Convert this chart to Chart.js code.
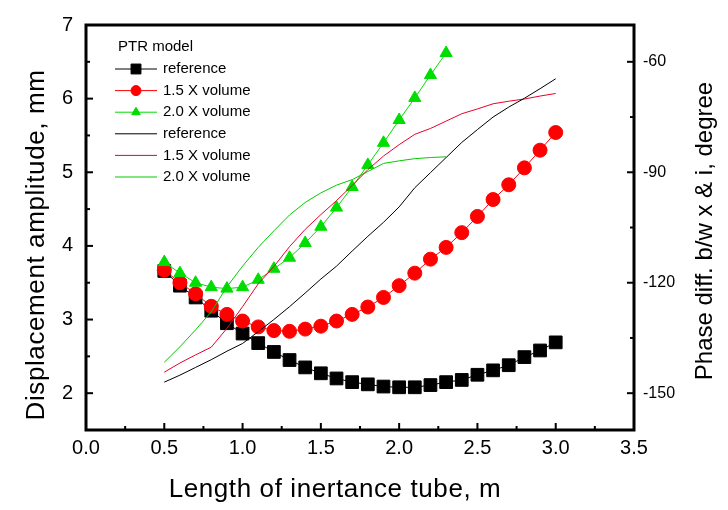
<!DOCTYPE html>
<html>
<head>
<meta charset="utf-8">
<script src="https://cdn.jsdelivr.net/npm/chart.js@4/dist/chart.umd.min.js"></script>
<style>
  html, body { margin: 0; padding: 0; background: #fff; }
</style>
</head>
<body>
<canvas id="chart" width="728" height="510"></canvas>
<script>
// ---- data ----
const seriesLabels = ['reference', '1.5 X volume', '2.0 X volume'];
const legendTitle = 'PTR model';

// tube length, m
const xLen = [0.5, 0.6, 0.7, 0.8, 0.9, 1.0, 1.1, 1.2, 1.3, 1.4, 1.5, 1.6, 1.7,
              1.8, 1.9, 2.0, 2.1, 2.2, 2.3, 2.4, 2.5, 2.6, 2.7, 2.8, 2.9, 3.0];
const xLenShort = [0.5, 0.6, 0.7, 0.8, 0.9, 1.0, 1.1, 1.2, 1.3, 1.4, 1.5, 1.6,
                   1.7, 1.8, 1.9, 2.0, 2.1, 2.2, 2.3];

// displacement amplitude, mm (symbols, left axis)
const ampRef = [3.66, 3.46, 3.30, 3.12, 2.95, 2.81, 2.68, 2.56, 2.45, 2.35, 2.27, 2.20, 2.15,
                2.12, 2.09, 2.08, 2.08, 2.11, 2.15, 2.18, 2.25, 2.31, 2.38, 2.49, 2.58, 2.69];
const amp15 = [3.67, 3.50, 3.35, 3.18, 3.07, 2.98, 2.90, 2.85, 2.84, 2.87, 2.91, 2.98, 3.07,
               3.17, 3.30, 3.46, 3.63, 3.82, 3.98, 4.18, 4.40, 4.63, 4.83, 5.06, 5.30, 5.54];
const amp20 = [3.78, 3.63, 3.50, 3.44, 3.42, 3.44, 3.54, 3.69, 3.84, 4.04, 4.26, 4.52, 4.80,
               5.10, 5.40, 5.71, 6.01, 6.32, 6.62];

// phase difference, degree (lines, right axis)
const phaseRef = [-147.0, -145.1, -143.0, -140.9, -138.6, -136.5, -133.3, -130.0, -126.5, -122.8,
                  -119.0, -115.5, -111.4, -107.4, -103.6, -99.4, -94.2, -90.1, -86.0, -81.9,
                  -78.4, -75.0, -72.3, -69.9, -67.3, -64.6];
const phase15 = [-144.3, -141.8, -139.6, -137.5, -132.4, -126.5, -120.3, -115.6, -110.2, -105.5,
                 -101.5, -97.7, -93.6, -89.3, -85.6, -82.5, -79.7, -78.1, -76.1, -74.1,
                 -72.8, -71.4, -70.7, -70.1, -69.3, -68.6];
const phase20 = [-141.6, -137.4, -132.8, -127.9, -121.1, -115.5, -110.4, -105.9, -101.6, -98.2,
                 -95.6, -93.5, -92.0, -89.8, -87.6, -86.9, -86.3, -86.0, -85.8];

// tick labels
const xTicks = [0.0, 0.5, 1.0, 1.5, 2.0, 2.5, 3.0, 3.5];
const yTicks = [2, 3, 4, 5, 6, 7];
const y2Ticks = [-150, -120, -90, -60];

// ---- helpers ----
const FONT = '"Liberation Sans", Arial, sans-serif';
const toXY = (xs, ys) => ys.map((v, i) => ({ x: xs[i], y: v }));
const minorOf = (ticks, lo, hi) => {
    const out = [];
    const step = ticks[1] - ticks[0];
    for (let v = ticks[0] - step / 2; v <= hi + 1e-9; v += step) {
        if (v >= lo - 1e-9) out.push(v);
    }
    return out;
};

// frame, inward ticks, axis titles, legend
const decoPlugin = {
    id: 'deco',
    afterDraw(chart) {
        const { ctx, chartArea: a, scales } = chart;
        ctx.save();
        ctx.strokeStyle = '#000';
        ctx.lineWidth = 2;
        const tick = (scale, values, len, side) => {
            values.forEach((v) => {
                const p = scale.getPixelForValue(v);
                ctx.beginPath();
                if (side === 'bottom') { ctx.moveTo(p, a.bottom); ctx.lineTo(p, a.bottom - len); }
                if (side === 'left') { ctx.moveTo(a.left, p); ctx.lineTo(a.left + len, p); }
                if (side === 'right') { ctx.moveTo(a.right, p); ctx.lineTo(a.right - len, p); }
                ctx.stroke();
            });
        };
        tick(scales.x, xTicks, 7, 'bottom');
        tick(scales.x, minorOf(xTicks, 0, 3.5), 4, 'bottom');
        tick(scales.y, yTicks, 7, 'left');
        tick(scales.y, minorOf(yTicks, 1.5, 7), 4, 'left');
        tick(scales.y2, y2Ticks, 7, 'right');
        tick(scales.y2, minorOf(y2Ticks, -160, -50), 4, 'right');

        ctx.lineWidth = 3;
        ctx.strokeRect(a.left, a.top, a.right - a.left, a.bottom - a.top);

        // axis titles
        ctx.fillStyle = '#000';
        ctx.textAlign = 'center';
        ctx.textBaseline = 'middle';
        ctx.font = '26px ' + FONT;
        ctx.letterSpacing = '0.6px';
        ctx.fillText('Length of inertance tube, m', 335, 490);
        ctx.save();
        ctx.translate(37, 245);
        ctx.rotate(-Math.PI / 2);
        ctx.fillText('Displacement amplitude, mm', 0, 0);
        ctx.restore();
        ctx.letterSpacing = '0px';
        ctx.font = '24px ' + FONT;
        ctx.save();
        ctx.translate(705, 231);
        ctx.rotate(-Math.PI / 2);
        ctx.fillText('Phase diff. b/w x & i, degree', 0, 0);
        ctx.restore();

        // legend
        ctx.textAlign = 'left';
        ctx.font = '15px ' + FONT;
        ctx.fillText(legendTitle, 118, 47);
        chart.data.datasets.forEach((ds, i) => {
            const y = 69 + i * 21.6;
            ctx.strokeStyle = ds.borderColor;
            ctx.lineWidth = 1;
            ctx.beginPath();
            ctx.moveTo(115, y);
            ctx.lineTo(157, y);
            ctx.stroke();
            if (ds.pointRadius > 0) {
                ctx.fillStyle = ds.pointBackgroundColor;
                ctx.strokeStyle = ds.pointBorderColor;
                Chart.helpers.drawPoint(ctx, {
                    pointStyle: ds.pointStyle, radius: ds.pointRadius - 2, rotation: 0, borderWidth: 1
                }, 136, y);
            }
            ctx.fillStyle = '#000';
            ctx.fillText(ds.label, 163, y);
        });
        ctx.restore();
    }
};

const symbolSet = (label, xs, ys, color, style, radius, order) => ({
    label: label, data: toXY(xs, ys), yAxisID: 'y', order: order,
    borderColor: color, borderWidth: 1,
    pointStyle: style, pointRadius: radius, pointHoverRadius: radius,
    pointBackgroundColor: color, pointBorderColor: color, pointBorderWidth: 1
});
const lineSet = (label, xs, ys, color) => ({
    label: label, data: toXY(xs, ys), yAxisID: 'y2', order: 0,
    borderColor: color, borderWidth: 1, pointRadius: 0
});

new Chart(document.getElementById('chart'), {
    type: 'line',
    data: {
        datasets: [
            symbolSet(seriesLabels[0], xLen, ampRef, '#000000', 'rect', 9, 3),
            symbolSet(seriesLabels[1], xLen, amp15, '#ff0000', 'circle', 7, 2),
            symbolSet(seriesLabels[2], xLenShort, amp20, '#00dd00', 'triangle', 7, 1),
            lineSet(seriesLabels[0], xLen, phaseRef, '#000000'),
            lineSet(seriesLabels[1], xLen, phase15, '#e8002a'),
            lineSet(seriesLabels[2], xLenShort, phase20, '#00cc00')
        ]
    },
    options: {
        responsive: false,
        animation: false,
        layout: { padding: { top: 24, left: 0, right: 0, bottom: 0 } },
        plugins: { legend: { display: false }, tooltip: { enabled: false } },
        scales: {
            x: {
                type: 'linear', min: 0, max: 3.5,
                afterBuildTicks: (s) => { s.ticks = xTicks.map((v) => ({ value: v })); },
                afterFit: (s) => { s.height = 80; },
                grid: { display: false, drawTicks: false },
                border: { display: false },
                ticks: {
                    padding: 6, color: '#000', font: { family: FONT, size: 20 },
                    callback: (v) => Number(v).toFixed(1)
                }
            },
            y: {
                type: 'linear', position: 'left', min: 1.5, max: 7,
                afterBuildTicks: (s) => { s.ticks = yTicks.map((v) => ({ value: v })); },
                afterFit: (s) => { s.width = 86; },
                grid: { display: false, drawTicks: false },
                border: { display: false },
                ticks: { padding: 13, color: '#000', font: { family: FONT, size: 20 } }
            },
            y2: {
                type: 'linear', position: 'right', min: -160, max: -50,
                afterBuildTicks: (s) => { s.ticks = y2Ticks.map((v) => ({ value: v })); },
                afterFit: (s) => { s.width = 94; },
                grid: { display: false, drawTicks: false },
                border: { display: false },
                ticks: { padding: 9, color: '#000', font: { family: FONT, size: 16 } }
            }
        }
    },
    plugins: [decoPlugin]
});
</script>
</body>
</html>
